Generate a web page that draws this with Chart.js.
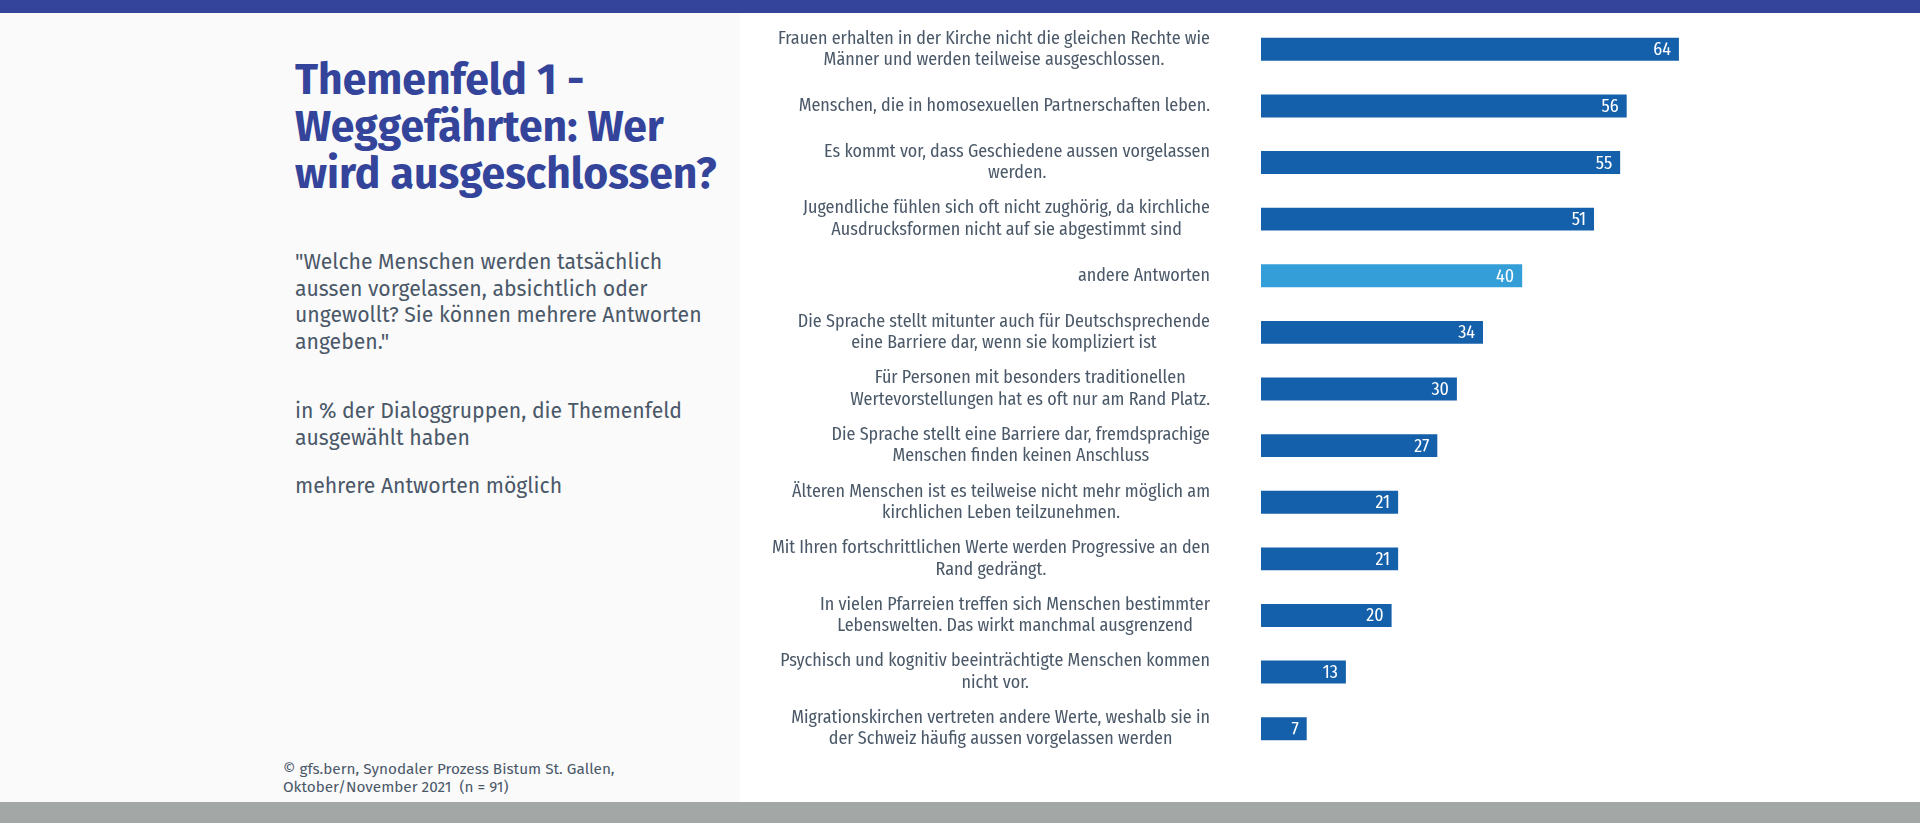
<!DOCTYPE html>
<html>
<head>
<meta charset="utf-8">
<script src="https://cdn.jsdelivr.net/npm/chart.js@4.4.0/dist/chart.umd.min.js"></script>
<style>
  body { margin: 0; width: 1920px; height: 823px; background: #fff; position: relative; overflow: hidden; font-family: "Fira Sans", "Noto Sans", sans-serif; }
  #topbar { position: absolute; left: 0; top: 0; width: 1920px; height: 13px; background: #33449a; }
  #left { position: absolute; left: 0; top: 13px; width: 740px; height: 789px; background: #fafafa; }
  #bottombar { position: absolute; left: 0; top: 802px; width: 1920px; height: 21px; background: #a3a7a6; }
  h1 { position: absolute; left: 295px; top: 56px; margin: 0; font-size: 42.7px; line-height: 47px; font-weight: bold; color: #33449a; }
  .txt { position: absolute; left: 295px; margin: 0; font-size: 21.2px; line-height: 26.5px; color: #4a5868; }
  #foot { position: absolute; left: 283px; top: 760px; margin: 0; font-size: 15.3px; line-height: 18px; color: #4a5868; }
  #wrap { position: absolute; left: 740px; top: 13px; width: 1180px; height: 789px; }
</style>
</head>
<body>
<div id="topbar"></div>
<div id="left"></div>
<div id="bottombar"></div>
<h1>Themenfeld 1 -<br>Weggefährten: Wer<br>wird ausgeschlossen?</h1>
<p class="txt" style="top:249px">"Welche Menschen werden tatsächlich<br>aussen vorgelassen, absichtlich oder<br>ungewollt? Sie können mehrere Antworten<br>angeben."</p>
<p class="txt" style="top:398px">in % der Dialoggruppen, die Themenfeld<br>ausgewählt haben</p>
<p class="txt" style="top:473px">mehrere Antworten möglich</p>
<p id="foot">© gfs.bern, Synodaler Prozess Bistum St. Gallen,<br>Oktober/November 2021&nbsp; (n = 91)</p>
<div id="wrap"><canvas id="myChart"></canvas></div>
<script>
// categories, one array of lines per bar
const categories = [
  ["Frauen erhalten in der Kirche nicht die gleichen Rechte wie", "Männer und werden teilweise ausgeschlossen."],
  ["Menschen, die in homosexuellen Partnerschaften leben."],
  ["Es kommt vor, dass Geschiedene aussen vorgelassen", "werden."],
  ["Jugendliche fühlen sich oft nicht zughörig, da kirchliche", "Ausdrucksformen nicht auf sie abgestimmt sind"],
  ["andere Antworten"],
  ["Die Sprache stellt mitunter auch für Deutschsprechende", "eine Barriere dar, wenn sie kompliziert ist"],
  ["Für Personen mit besonders traditionellen", "Wertevorstellungen hat es oft nur am Rand Platz."],
  ["Die Sprache stellt eine Barriere dar, fremdsprachige", "Menschen finden keinen Anschluss"],
  ["Älteren Menschen ist es teilweise nicht mehr möglich am", "kirchlichen Leben teilzunehmen."],
  ["Mit Ihren fortschrittlichen Werte werden Progressive an den", "Rand gedrängt."],
  ["In vielen Pfarreien treffen sich Menschen bestimmter", "Lebenswelten. Das wirkt manchmal ausgrenzend"],
  ["Psychisch und kognitiv beeinträchtigte Menschen kommen", "nicht vor."],
  ["Migrationskirchen vertreten andere Werte, weshalb sie in", "der Schweiz häufig aussen vorgelassen werden"]
];
const values = [64, 56, 55, 51, 40, 34, 30, 27, 21, 21, 20, 13, 7];

const darkBlue = "#1560ab";
const lightBlue = "#349ed8";
const labelFont = '18px "Fira Sans Condensed", "Roboto Condensed", "DejaVu Sans Condensed", sans-serif';

// category text (right-aligned block, centered lines) and values inside bars
const barLabels = {
  id: "barLabels",
  afterDatasetsDraw(chart) {
    const ctx = chart.ctx;
    const y = chart.scales.y;
    const meta = chart.getDatasetMeta(0);
    ctx.save();
    ctx.font = labelFont;
    ctx.textBaseline = "middle";
    categories.forEach(function (lines, i) {
      const cy = y.getPixelForValue(i);
      let widest = 0;
      lines.forEach(function (l) { widest = Math.max(widest, ctx.measureText(l).width); });
      const right = chart.chartArea.left - 51;
      const lineH = 21.5;
      ctx.fillStyle = "#4a5868";
      ctx.textAlign = "center";
      lines.forEach(function (l, k) {
        ctx.fillText(l, right - widest / 2, cy - (lines.length - 1) * lineH / 2 + k * lineH);
      });
      ctx.fillStyle = "#fff";
      ctx.textAlign = "right";
      ctx.fillText(String(values[i]), meta.data[i].x - 8, cy + 1);
    });
    ctx.restore();
  }
};

new Chart("myChart", {
  type: "bar",
  data: {
    labels: categories,
    datasets: [{
      data: values,
      backgroundColor: categories.map(c => c[0] === "andere Antworten" ? lightBlue : darkBlue),
      barPercentage: 0.9,
      categoryPercentage: 0.45
    }]
  },
  options: {
    indexAxis: "y",
    responsive: true,
    maintainAspectRatio: false,
    animation: false,
    layout: { padding: { left: 521, top: 8, bottom: 45, right: 6 } },
    scales: {
      x: { min: 0, max: 100, display: false },
      y: { display: false }
    },
    plugins: {
      legend: { display: false },
      tooltip: { enabled: false }
    }
  },
  plugins: [barLabels]
});
</script>
</body>
</html>
